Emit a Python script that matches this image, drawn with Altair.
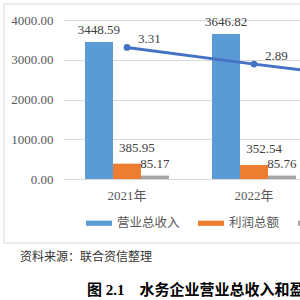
import altair as alt
import pandas as pd

# ---- data ----
years = ["2021年", "2022年", "2023年"]
bar_years = ["2021年", "2022年"]
series = ["营业总收入", "利润总额", "净利润"]
revenue = [3448.59, 3646.82]
profit = [385.95, 352.54]
net = [85.17, 85.76]
rate_years = ["2021年", "2022年", "2023年"]
rate = [3.31, 2.89, 2.50]
y_ticks = [0, 1000, 2000, 3000, 4000]
colors = ["#5B9BD5", "#ED7D31", "#A5A5A5"]
source_text = "资料来源：联合资信整理"
fig_title = "图 2.1\u3000水务企业营业总收入和盈利情况"

rows = []
for name, vals in zip(series, [revenue, profit, net]):
    for yr, v in zip(bar_years, vals):
        rows.append({"year": yr, "series": name, "value": v})
bars_df = pd.DataFrame(rows)
line_df = pd.DataFrame({"year": rate_years, "rate": rate})

SERIF = "Liberation Serif, Noto Sans CJK SC"
SANS = "Noto Sans CJK SC"

x_scale = alt.Scale(domain=years, range=[0, 382], paddingInner=0.3386, paddingOuter=0.1732)
off_scale = alt.Scale(domain=series, paddingInner=0, paddingOuter=0)
y_scale = alt.Scale(domain=[0, 4000], nice=False)
r_scale = alt.Scale(domain=[0, 4], nice=False)

x_axis = alt.Axis(labelAngle=0, ticks=False, domain=False, grid=False,
                  labelFont=SERIF, labelFontSize=13, labelColor="#595959",
                  labelPadding=10, title=None)
y_axis = alt.Axis(values=y_ticks, format=".2f", ticks=False, domain=False,
                  grid=True, gridColor="#d9d9d9", labelFont=SERIF,
                  labelFontSize=13, labelColor="#595959", labelPadding=10, title=None)

X = alt.X("year:N", scale=x_scale, axis=x_axis)
XO = alt.XOffset("series:N", scale=off_scale)
Y = alt.Y("value:Q", scale=y_scale, axis=y_axis)

base = alt.Chart(bars_df)

bars = base.mark_bar().encode(
    x=X, xOffset=XO, y=Y,
    color=alt.Color("series:N",
                    scale=alt.Scale(domain=series, range=colors),
                    legend=alt.Legend(orient="none", legendX=23, legendY=190,
                                      direction="horizontal", title=None,
                                      symbolType="M-1,-0.2H1V0.2H-1Z", symbolSize=676,
                                      symbolStrokeWidth=0, labelFont=SANS,
                                      labelFontSize=12.5, labelColor="#595959",
                                      labelOffset=5, columnPadding=18, padding=0)),
)

txt_enc = dict(x=X, xOffset=XO, y=Y, text=alt.Text("value:Q", format=".2f"))

bar_text = base.transform_filter(alt.datum.series != "利润总额").mark_text(
    baseline="middle", dy=-12, font=SERIF, fontSize=13, color="#404040"
).encode(**txt_enc)

profit_text = base.transform_filter(alt.datum.series == "利润总额").mark_text(
    baseline="middle", dx=10, dy=-16, font=SERIF, fontSize=13, color="#404040"
).encode(**txt_enc)

box = alt.Chart(alt.Data(values=[{"k": 1}])).mark_rect(
    fillOpacity=0, stroke="#d9d9d9", strokeWidth=1
).encode(x=alt.value(-59), x2=alt.value(400), y=alt.value(-16), y2=alt.value(223))

src = alt.Chart(alt.Data(values=[{"t": source_text}])).mark_text(
    align="left", baseline="middle", font=SANS, fontSize=12, color="#333333"
).encode(x=alt.value(-43), y=alt.value(237), text="t:N")

ttl = alt.Chart(alt.Data(values=[{"t": fig_title}])).mark_text(
    align="left", baseline="middle", font=SERIF, fontSize=15, fontWeight="bold",
    color="#000000"
).encode(x=alt.value(24), y=alt.value(270), text="t:N")

left_layer = alt.layer(box, bars, bar_text, profit_text, src, ttl)

lbase = alt.Chart(line_df)
lenc = dict(
    x=X,
    y=alt.Y("rate:Q", scale=r_scale, axis=None),
)
line = lbase.mark_line(color="#4472C4", strokeWidth=3, clip=True).encode(**lenc)
pts = lbase.mark_point(filled=True, size=45, opacity=1, color="#4472C4", clip=True).encode(**lenc)
ltxt = lbase.mark_text(align="left", baseline="middle", dx=11, dy=-8, font=SERIF,
                       fontSize=13, color="#404040", clip=True).encode(
    text=alt.Text("rate:Q", format=".2f"), **lenc)
right_layer = alt.layer(line, pts, ltxt)

chart = alt.layer(left_layer, right_layer).resolve_scale(y="independent").properties(
    width=237, height=159,
    autosize=alt.AutoSizeParams(type="none"),
    padding={"left": 63, "top": 20, "right": 0, "bottom": 121},
    background="white",
).configure_view(stroke=None)

chart.save("out.html", embed_options={"renderer": "svg", "actions": False})
